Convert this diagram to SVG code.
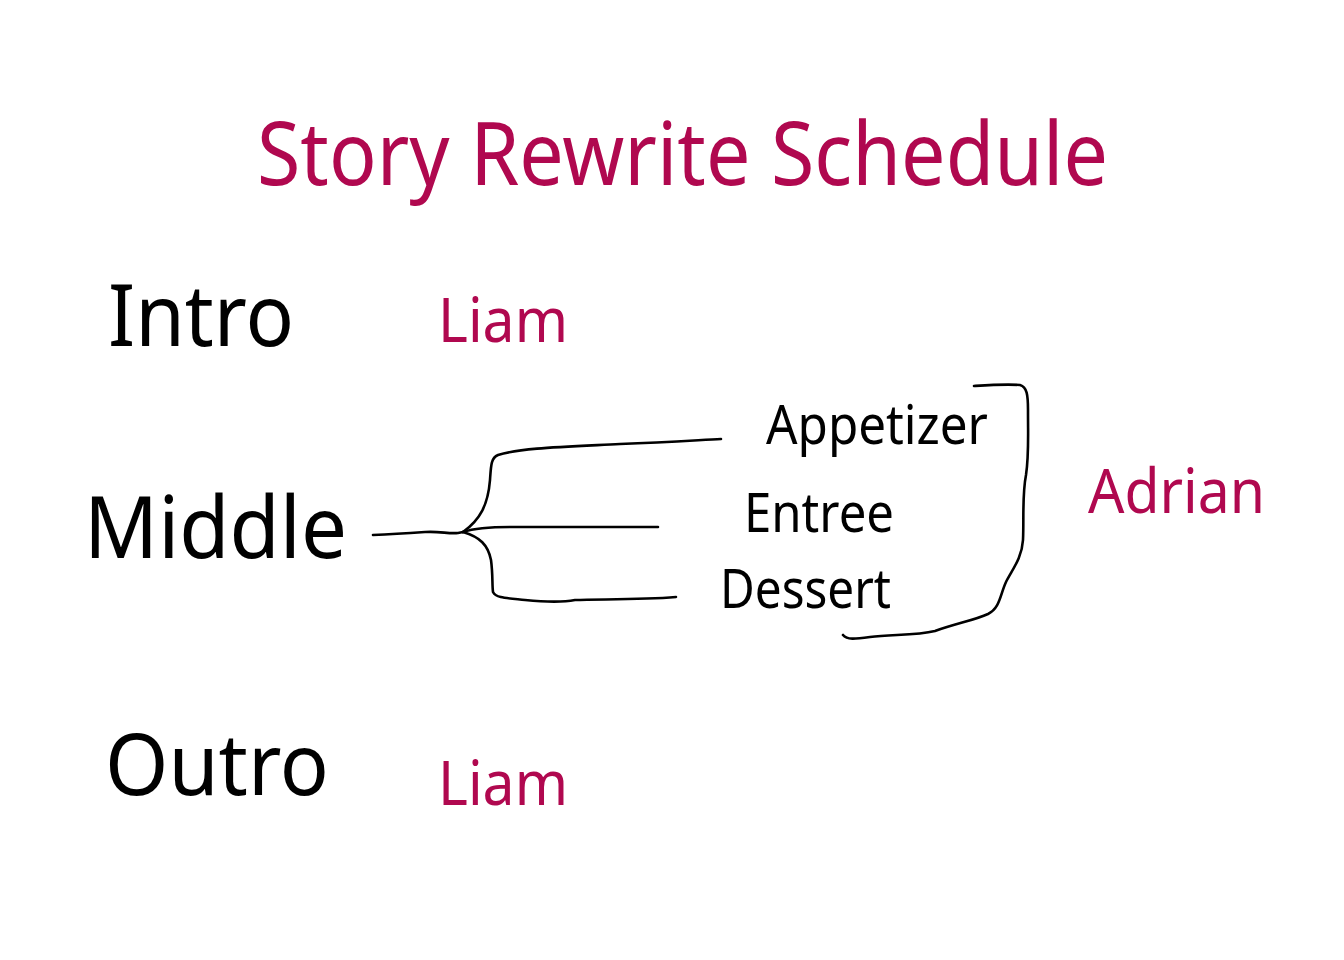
<svg xmlns="http://www.w3.org/2000/svg" width="1344" height="960" viewBox="0 0 1344 960">
<style>
text{font-family:"Noto Sans","Open Sans","Liberation Sans",sans-serif;}
.pink{fill:#b0084f;}
.blk{fill:#000;}
.big{font-size:86px;}
.who{font-size:62px;}
.sub{font-size:55px;}
.ink{fill:none;stroke:#000;stroke-width:2.6;stroke-linecap:round;stroke-linejoin:round;}
</style>
<rect width="1344" height="960" fill="#fff"/>
<g id="title"><text class="pink" x="257" y="185" font-size="88" textLength="851" lengthAdjust="spacingAndGlyphs">Story Rewrite Schedule</text></g>
<g id="intro"><text class="blk big" x="108" y="346" textLength="186" lengthAdjust="spacingAndGlyphs">Intro</text></g>
<g id="liam1"><text class="pink who" x="438" y="342" textLength="130" lengthAdjust="spacingAndGlyphs">Liam</text></g>
<g id="middle"><text class="blk big" x="84" y="558" textLength="263" lengthAdjust="spacingAndGlyphs">Middle</text></g>
<g id="outro"><text class="blk big" x="105" y="795" textLength="224" lengthAdjust="spacingAndGlyphs">Outro</text></g>
<g id="liam2"><text class="pink who" x="438" y="805" textLength="130" lengthAdjust="spacingAndGlyphs">Liam</text></g>
<g id="appetizer"><text class="blk sub" x="766" y="444" textLength="222" lengthAdjust="spacingAndGlyphs">Appetizer</text></g>
<g id="entree"><text class="blk sub" x="744" y="532" textLength="150" lengthAdjust="spacingAndGlyphs">Entree</text></g>
<g id="dessert"><text class="blk sub" x="720" y="608" textLength="171" lengthAdjust="spacingAndGlyphs">Dessert</text></g>
<g id="adrian"><text class="pink who" x="1088" y="513" textLength="177" lengthAdjust="spacingAndGlyphs">Adrian</text></g>
<g id="connectors">
<path class="ink" d="M373,535 C395,534 410,533 425,532 C440,531 448,534 458,533 L463,532"/>
<path class="ink" d="M463,532 C480,520 488,505 490,480 C491,465 491,458 498,455 C520,448 560,447 620,444 C670,442 700,440 721,439"/>
<path class="ink" d="M463,532 C475,528 490,527 510,527 L658,527"/>
<path class="ink" d="M463,532 C480,537 488,545 491,560 C493,575 492,585 493,592 C496,598 505,598 525,600 C545,602 560,603 575,600 C600,599 640,600 676,597"/>
<path class="ink" d="M974,386 C990,385 1005,384 1020,385 C1027,387 1028,395 1028,410 C1028,440 1029,455 1026,475 C1022,495 1024,520 1023,540 C1022,558 1012,570 1006,582 C1000,595 1000,608 988,614 C975,620 958,623 935,631 C915,636 890,634 870,637 C855,639 847,640 843,635"/>
</g>
</svg>
